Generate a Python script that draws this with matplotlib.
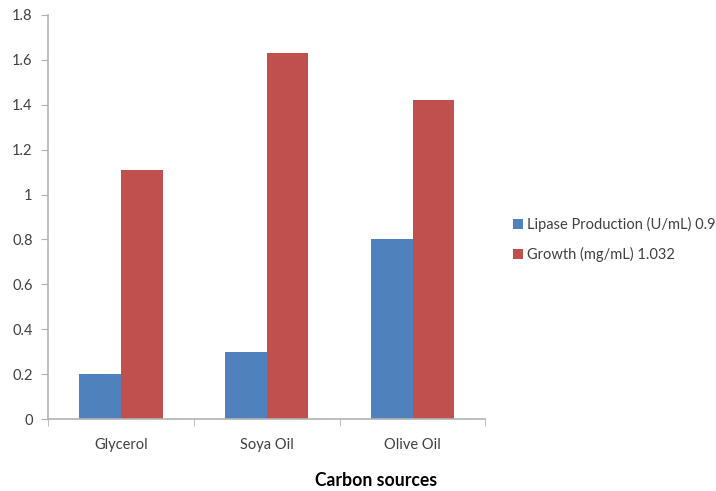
import numpy as np
import matplotlib.pyplot as plt

sources = ["Glycerol", "Soya Oil", "Olive Oil"]
lipase = [0.2, 0.3, 0.8]
growth = [1.11, 1.63, 1.42]
series_names = ["Lipase Production (U/mL) 0.9", "Growth (mg/mL) 1.032"]

plt.rcParams['font.family'] = ['Lato', 'DejaVu Sans']
axis_grey = '#b3b3b3'
text_grey = '#404040'

fig = plt.figure(figsize=(7.16, 4.91), dpi=100)
ax = fig.add_axes([0.067, 0.1466, 0.611, 0.8229])

x = np.arange(len(sources))
w = 1 / 3.5  # excel gap width 150%
ax.bar(x - w / 2, lipase, w, color='#4f81bd', label=series_names[0])
ax.bar(x + w / 2, growth, w, color='#c0504d', label=series_names[1])

ax.set_xlim(-0.5, len(sources) - 0.5)
ax.set_ylim(0, 1.8)
yt = np.arange(0, 1.81, 0.2)
ax.set_yticks(yt)
ax.set_yticklabels([f"{v:g}" for v in np.round(yt, 1)])
ax.set_xticks(x)
ax.set_xticklabels(sources)
ax.set_xticks(np.arange(-0.5, len(sources), 1), minor=True)

for s in ['top', 'right']:
    ax.spines[s].set_visible(False)
for s in ['left', 'bottom']:
    ax.spines[s].set_color(axis_grey)
    ax.spines[s].set_linewidth(1.2)

ax.tick_params(axis='y', length=5, color=axis_grey, labelsize=10.5, labelcolor=text_grey, pad=6)
ax.tick_params(axis='x', which='major', length=0, labelsize=10.5, labelcolor=text_grey, pad=14)
ax.tick_params(axis='x', which='minor', length=5, color=axis_grey)

# axis title sits right of the axes centre, under the whole chart area
ax.set_xlabel("Carbon sources", fontsize=12.7, fontweight='bold', va='center')
ax.xaxis.set_label_coords(0.751, -0.151)

fig.legend(loc='upper left', bbox_to_anchor=(0.698, 0.585), frameon=False,
           fontsize=10.5, handlelength=0.7, handleheight=0.7, handletextpad=0.3,
           labelspacing=1.05, labelcolor=text_grey)

fig.savefig("out.png", dpi=100)
